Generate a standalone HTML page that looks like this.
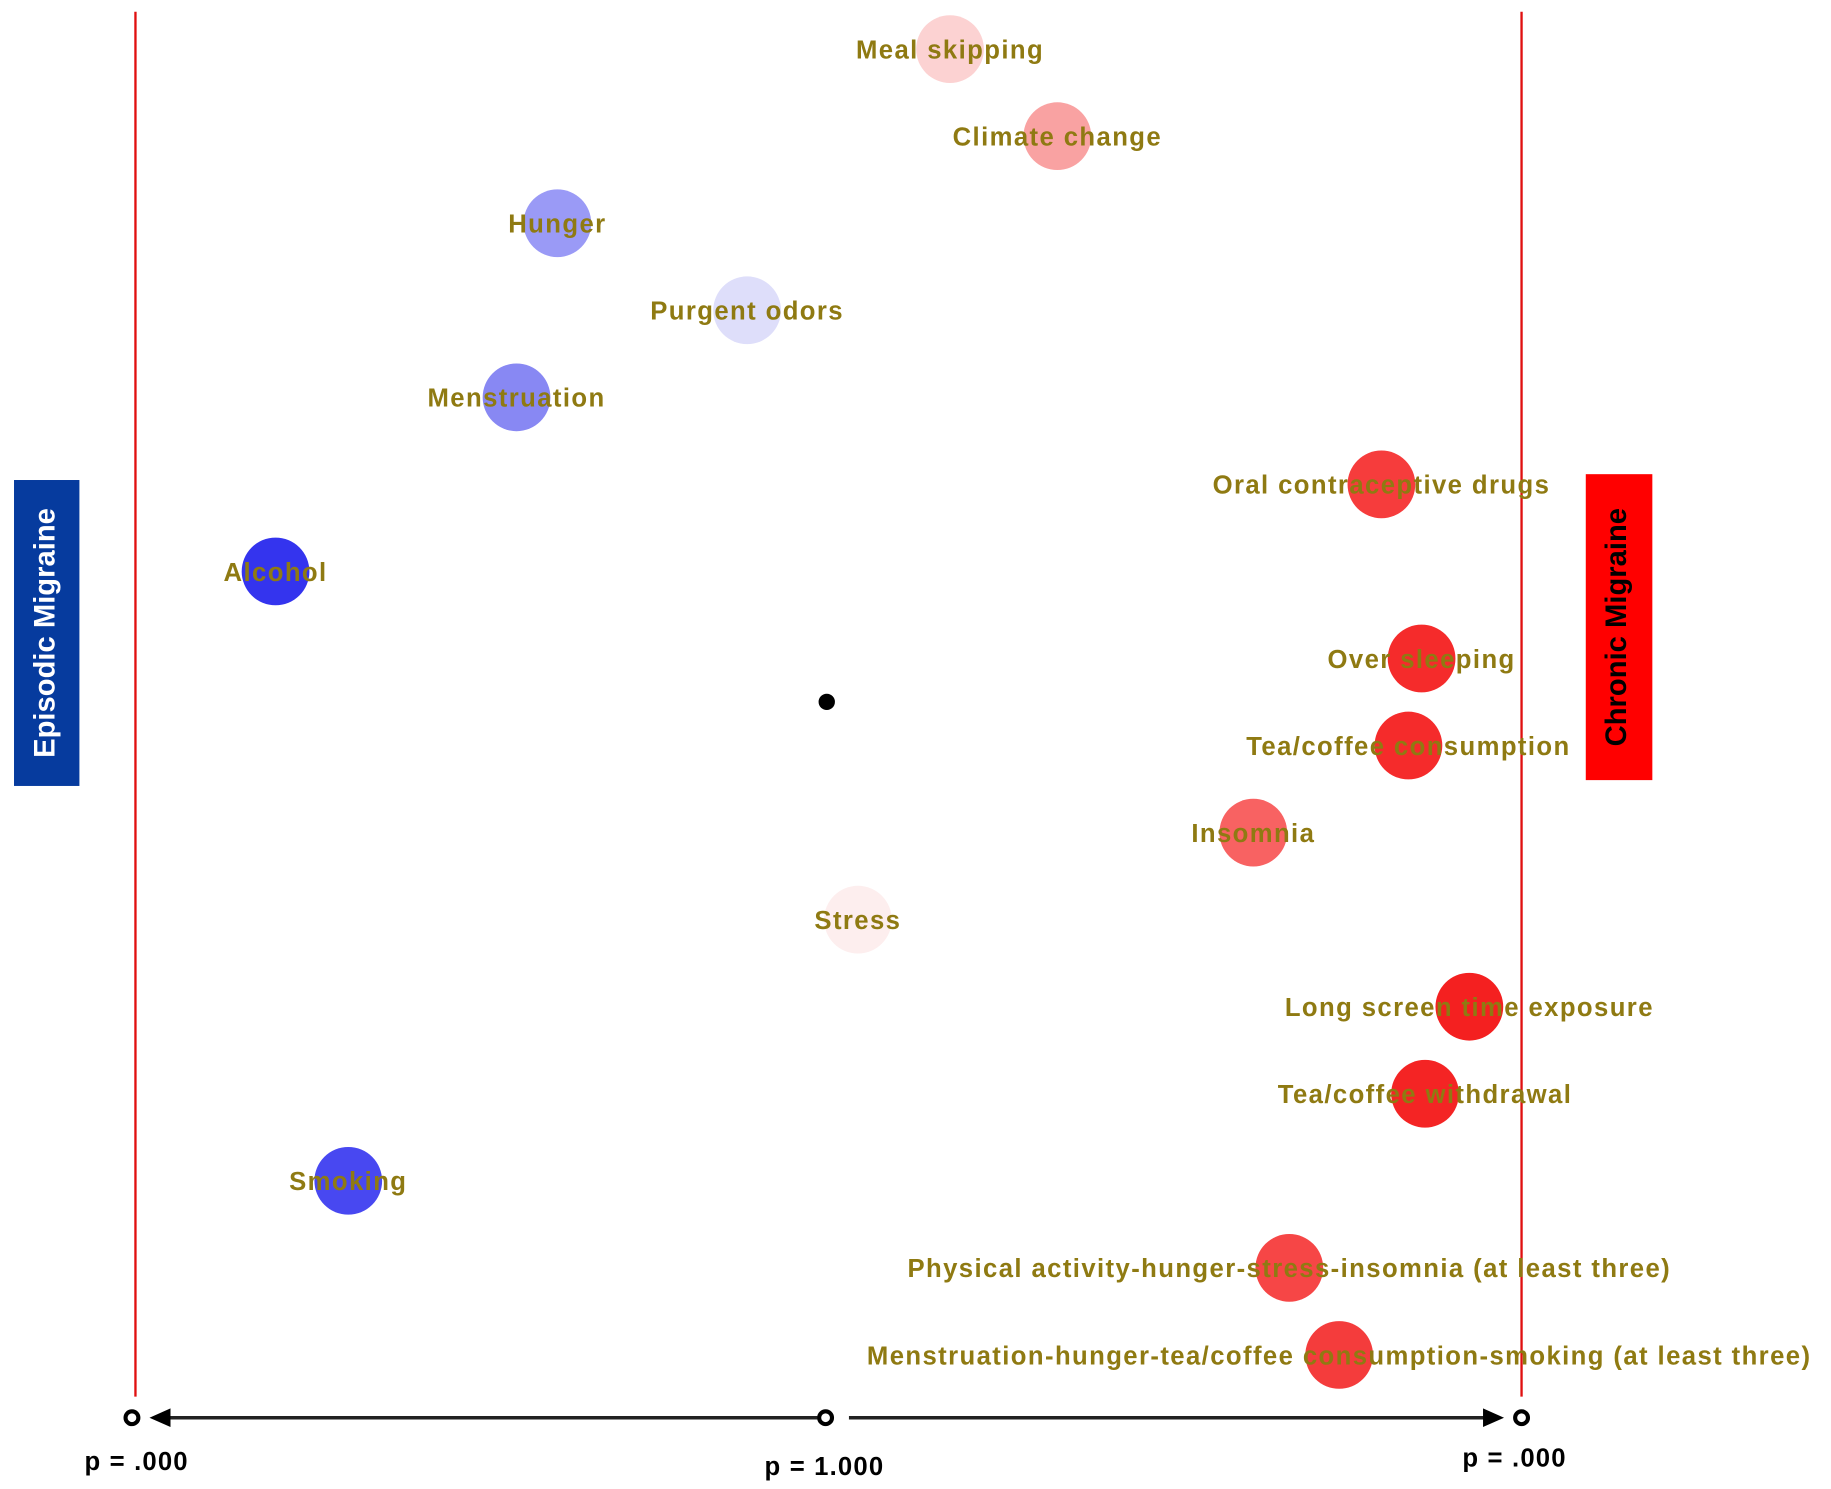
<!DOCTYPE html>
<html><head><meta charset="utf-8"><style>
html,body{margin:0;padding:0;background:#fff}
svg{display:block}
text{font-family:"Liberation Sans",Arial,sans-serif;font-weight:bold}
</style></head><body>
<svg id="chart" width="1831" height="1489" viewBox="0 0 1568 1275" xmlns="http://www.w3.org/2000/svg">
<line x1="116" y1="10" x2="116" y2="1196" stroke="#e01010" stroke-width="2"/>
<line x1="1303" y1="10" x2="1303" y2="1196" stroke="#e01010" stroke-width="2"/>
<g>
<rect x="12" y="411" width="56" height="262" fill="#063b9e"/>
<text x="40" y="542" fill="#fff" font-size="25" text-anchor="middle" dominant-baseline="middle" transform="rotate(-90 40 542)">Episodic Migraine</text>
</g>
<g>
<rect x="1358" y="406" width="57" height="262" fill="#ff0000"/>
<text x="1386" y="537" fill="#000" font-size="25" text-anchor="middle" dominant-baseline="middle" transform="rotate(-90 1386 537)">Chronic Migraine</text>
</g>
<circle cx="708" cy="601" r="7" fill="#000"/>
<g id="marks"></g>
<g>
<line x1="700" y1="1214" x2="140" y2="1214" stroke="#222" stroke-width="3"/>
<polygon points="128,1214 146,1206 146,1222" fill="#000"/>
<line x1="727" y1="1214" x2="1275" y2="1214" stroke="#222" stroke-width="3"/>
<polygon points="1288,1214 1270,1206 1270,1222" fill="#000"/>
<circle cx="113" cy="1214" r="5.5" fill="#fff" stroke="#000" stroke-width="3.5"/>
<circle cx="707" cy="1214" r="5.5" fill="#fff" stroke="#000" stroke-width="3.5"/>
<circle cx="1303" cy="1214" r="5.5" fill="#fff" stroke="#000" stroke-width="3.5"/>
<text x="117" y="1259" font-size="22" letter-spacing="1" text-anchor="middle">p = .000</text>
<text x="706" y="1263" font-size="22" letter-spacing="1" text-anchor="middle">p = 1.000</text>
<text x="1297" y="1256" font-size="22" letter-spacing="1" text-anchor="middle">p = .000</text>
</g>
</svg>
<script>
const triggers = ["Meal skipping","Climate change","Hunger","Purgent odors","Menstruation","Oral contraceptive drugs","Alcohol","Over sleeping","Tea/coffee consumption","Insomnia","Stress","Long screen time exposure","Tea/coffee withdrawal","Smoking","Physical activity-hunger-stress-insomnia (at least three)","Menstruation-hunger-tea/coffee consumption-smoking (at least three)"];
// signed association: -1 = episodic (p=.000 left), 0 = p=1.000, +1 = chronic (p=.000 right)
const association = [0.178,0.333,-0.389,-0.115,-0.448,0.801,-0.796,0.859,0.840,0.616,0.045,0.928,0.864,-0.691,0.668,0.740];
const colors = ["#fcd2d2","#f9a2a2","#9a9af6","#dedefa","#8888f3","#f63c3c","#3434ee","#f52b2b","#f52b2b","#f86262","#fdeeee","#f42020","#f42424","#4848f1","#f64646","#f43c3c"];
const xScale = v => 708 + v * 593;
const yScale = i => 42 + i * 74.55;
const g = document.getElementById('marks');
const NS = "http://www.w3.org/2000/svg";
triggers.forEach((t, i) => {
  const c = document.createElementNS(NS, 'circle');
  
  
  c.setAttribute('cx', xScale(association[i]));
  c.setAttribute('cy', yScale(i));
  c.setAttribute('r', 29);
  c.setAttribute('fill', colors[i]);
  g.appendChild(c);
});
triggers.forEach((t, i) => {
  const tx = document.createElementNS(NS, 'text');
  
  
  tx.setAttribute('x', xScale(association[i]));
  tx.setAttribute('y', yScale(i) + 8);
  tx.setAttribute('font-size', '22');
  tx.setAttribute('letter-spacing', '1.2');
  tx.setAttribute('text-anchor', 'middle');
  tx.setAttribute('fill', '#8f7a12');
  tx.textContent = t;
  g.appendChild(tx);
});
</script>
</body></html>
